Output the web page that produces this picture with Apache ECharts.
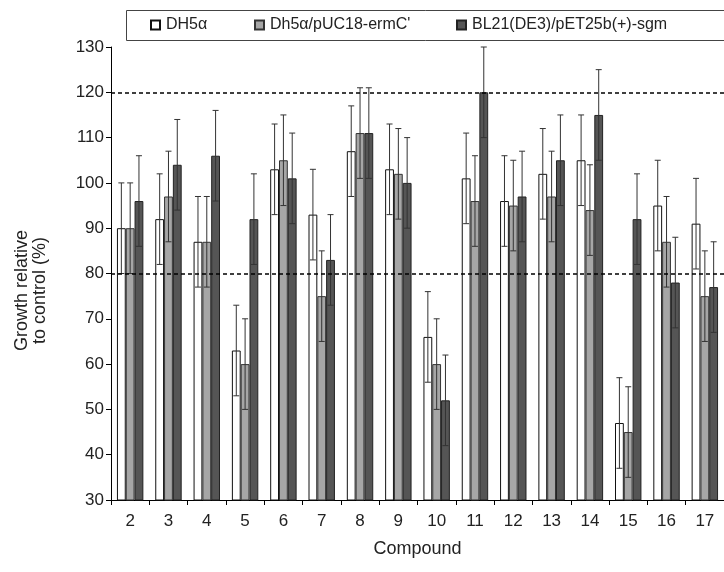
<!DOCTYPE html>
<html>
<head>
<meta charset="utf-8">
<script src="https://cdn.jsdelivr.net/npm/echarts@6/dist/echarts.min.js"></script>
<style>html,body{margin:0;padding:0;background:#fff;}#c{width:724px;height:572px;}</style>
</head>
<body>
<div id="c"></div>
<script>
var categories = ['2','3','4','5','6','7','8','9','10','11','12','13','14','15','16','17'];
var seriesNames = ['DH5\u03b1', 'Dh5\u03b1/pUC18-ermC\'', 'BL21(DE3)/pET25b(+)-sgm'];
var dh5a      = [90, 92, 87, 63, 103, 93, 107, 103, 66, 101, 96, 102, 105, 47, 95, 91];
var dh5aPuc   = [90, 97, 87, 60, 105, 75, 111, 102, 60, 96, 95, 97, 94, 45, 87, 75];
var bl21      = [96, 104, 106, 92, 101, 83, 111, 100, 52, 120, 97, 105, 115, 92, 78, 77];
var dh5aErr    = [10, 10, 10, 10, 10, 10, 10, 10, 10, 10, 10, 10, 10, 10, 10, 10];
var dh5aPucErr = [10, 10, 10, 10, 10, 10, 10, 10, 10, 10, 10, 10, 10, 10, 10, 10];
var bl21Err    = [10, 10, 10, 10, 10, 10, 10, 10, 10, 10, 10, 10, 10, 10, 10, 10];
var yTicks = [30, 40, 50, 60, 70, 80, 90, 100, 110, 120, 130];
var refLines = [80, 120];

var FONT = 'Liberation Sans, Arial, sans-serif';
var fills = ['#ffffff', '#a6a6a6', '#555555'];
var borders = ['#111111', '#333333', '#222222'];
var values = [dh5a, dh5aPuc, bl21];
var errs = [dh5aErr, dh5aPucErr, bl21Err];
var BAR_FRAC = 0.23;

var series = [];
values.forEach(function (vals, i) {
  series.push({
    name: seriesNames[i], type: 'bar', data: vals,
    barWidth: (BAR_FRAC * 100) + '%', barGap: '0%',
    itemStyle: { color: fills[i], borderColor: borders[i], borderWidth: 1 },
    emphasis: { disabled: true }, z: 2
  });
});
values.forEach(function (vals, i) {
  series.push({
    type: 'custom', name: 'err' + i, z: 3,
    data: vals.map(function (v, k) { return [k, v, errs[i][k]]; }),
    renderItem: function (params, api) {
      var k = api.value(0), v = api.value(1), e = api.value(2);
      var band = api.size([1, 0])[0];
      var off = (i - 1) * band * BAR_FRAC;
      var top = api.coord([k, v + e]);
      var bot = api.coord([k, v - e]);
      var x = top[0] + off;
      var hw = 3;
      var st = { stroke: '#333', lineWidth: 1 };
      return { type: 'group', children: [
        { type: 'line', shape: { x1: x, y1: top[1], x2: x, y2: bot[1] }, style: st },
        { type: 'line', shape: { x1: x - hw, y1: top[1], x2: x + hw, y2: top[1] }, style: st },
        { type: 'line', shape: { x1: x - hw, y1: bot[1], x2: x + hw, y2: bot[1] }, style: st }
      ]};
    },
    markLine: i === 2 ? {
      silent: true, symbol: 'none', label: { show: false },
      lineStyle: { color: '#000', type: [4, 3], width: 1.5 },
      data: refLines.map(function (r) { return { yAxis: r }; })
    } : undefined
  });
});

var legendX = [150, 254, 456];
var legends = seriesNames.map(function (n, i) {
  return {
    data: [n], left: legendX[i], top: 17, padding: 0,
    itemWidth: 9, itemHeight: 9, icon: 'rect',
    selectedMode: false,
    textStyle: { fontFamily: FONT, fontSize: 16, color: '#222', padding: [0, 0, 0, 1] }
  };
});

var chart = echarts.init(document.getElementById('c'), null, { renderer: 'canvas' });
chart.setOption({
  backgroundColor: '#fff',
  animation: false,
  graphic: [{
    type: 'rect', shape: { x: 126.5, y: 10.5, width: 640, height: 30 },
    style: { fill: 'none', stroke: '#444', lineWidth: 1 }, z: 0
  }],
  legend: legends,
  grid: { left: 111, top: 47, bottom: 72, right: -6, containLabel: false },
  xAxis: {
    type: 'category', data: categories,
    name: 'Compound', nameLocation: 'middle', nameGap: 40,
    nameTextStyle: { fontFamily: FONT, fontSize: 18, color: '#222' },
    axisLine: { lineStyle: { color: '#000', width: 1 } },
    axisTick: { show: true, length: 5, lineStyle: { color: '#000' } },
    axisLabel: { fontFamily: FONT, fontSize: 17, color: '#222', margin: 13 }
  },
  yAxis: {
    type: 'value', min: yTicks[0], max: yTicks[yTicks.length - 1], interval: 10,
    name: 'Growth relative\nto control (%)', nameLocation: 'middle', nameGap: 62,
    nameTextStyle: { fontFamily: FONT, fontSize: 18, color: '#222', lineHeight: 18, padding: [0, 34, 0, 0] },
    axisLine: { show: true, lineStyle: { color: '#000', width: 1 } },
    axisTick: { show: true, length: 5, lineStyle: { color: '#000' } },
    axisLabel: { fontFamily: FONT, fontSize: 17, color: '#222', margin: 7 },
    splitLine: { show: false }
  },
  series: series
});
</script>
</body>
</html>
